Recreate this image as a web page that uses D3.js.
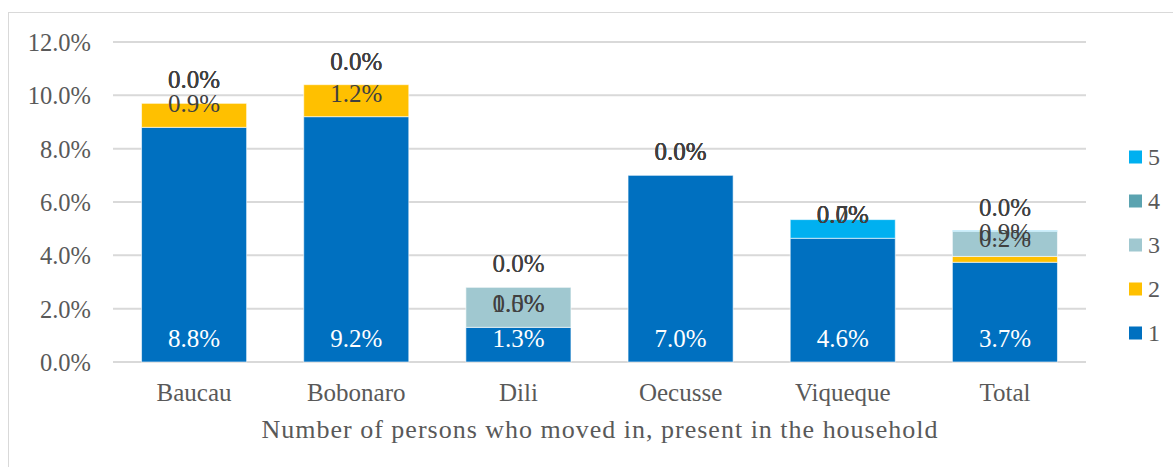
<!DOCTYPE html>
<html>
<head>
<meta charset="utf-8">
<script src="https://cdn.jsdelivr.net/npm/d3@7"></script>
<style>
  body { margin: 0; background: #fff; }
  svg { display: block; font-family: "Liberation Serif", "DejaVu Serif", serif; }
</style>
</head>
<body>
<svg id="chart" width="1173" height="467"></svg>
<script>
// categories and series values (percent)
const categories = ["Baucau", "Bobonaro", "Dili", "Oecusse", "Viqueque", "Total"];
const seriesNames = ["1", "2", "3", "4", "5"];
const s1 = [8.8, 9.2, 1.3, 7.0, 4.64, 3.74];
const s2 = [0.9, 1.2, 0.0, 0.0, 0.0, 0.22];
const s3 = [0.0, 0.0, 1.5, 0.0, 0.0, 0.94];
const s4 = [0.0, 0.0, 0.0, 0.0, 0.0, 0.0];
const s5 = [0.0, 0.0, 0.0, 0.0, 0.7, 0.03];
const yTicks = [0, 2, 4, 6, 8, 10, 12];
const colors = ["#0070C0", "#FFC000", "#A0C8D0", "#5BA3B0", "#00B0F0"];
const axisTitle = "Number of persons who moved in, present in the household";

// build table for d3.stack
const series = [s1, s2, s3, s4, s5];
const table = categories.map((c, i) => {
    let row = {cat: c};
    seriesNames.forEach((s, k) => row[s] = series[k][i]);
    return row;
});

const svg = d3.select("#chart");

// outer frame
svg.append("rect")
    .attr("x", 8.5).attr("y", 12.5)
    .attr("width", 1300).attr("height", 600)
    .attr("fill", "none").attr("stroke", "#d9d9d9");

const x = d3.scaleBand()
    .domain(categories)
    .range([113, 1086])
    .paddingInner(0.352)
    .paddingOuter(0.176);

const y = d3.scaleLinear()
    .domain([0, 12])
    .range([362, 42]);

// gridlines
svg.append("g")
    .selectAll("line")
    .data(yTicks)
    .enter().append("line")
    .attr("x1", 113).attr("x2", 1086)
    .attr("y1", d => y(d)).attr("y2", d => y(d))
    .attr("stroke", "#d9d9d9").attr("stroke-width", 2);

// y axis labels
const yAxis = svg.append("g")
    .attr("transform", "translate(91,0)")
    .call(d3.axisLeft(y).tickValues(yTicks).tickSize(0).tickPadding(0)
          .tickFormat(d => d3.format(".1f")(d) + "%"));
yAxis.select(".domain").remove();
yAxis.selectAll("text")
    .attr("fill", "#595959")
    .style("font-size", "24.5px")
    .style("font-family", "Liberation Serif")
    .attr("dy", "0.34em");

// stacked bars
const stack = d3.stack().keys(seriesNames);
const stacked = stack(table);

const layers = svg.append("g")
    .selectAll("g")
    .data(stacked)
    .enter().append("g")
    .attr("fill", (d, i) => colors[i]);

layers.selectAll("rect")
    .data(d => d)
    .enter().append("rect")
    .attr("x", d => x(d.data.cat))
    .attr("width", x.bandwidth())
    .attr("y", d => y(d[1]))
    .attr("height", d => y(d[0]) - y(d[1]))
    .attr("stroke", "#ffffff")
    .attr("stroke-opacity", 0.6)
    .attr("stroke-width", 1);

// data labels, sitting just above each segment's base
const labels = svg.append("g");
stacked.forEach((layer, k) => {
    labels.selectAll(".lab" + k)
        .data(layer)
        .enter().append("text")
        .attr("class", "lab" + k)
        .attr("x", d => x(d.data.cat) + x.bandwidth() / 2)
        .attr("y", d => y(d[0]) - 15)
        .attr("text-anchor", "middle")
        .attr("fill", k === 0 ? "#ffffff" : "#404040")
        .style("font-size", "25px")
        .text(d => d3.format(".1f")(d[1] - d[0]) + "%");
});

// x axis category labels
svg.append("g")
    .selectAll("text")
    .data(categories)
    .enter().append("text")
    .attr("x", d => x(d) + x.bandwidth() / 2)
    .attr("y", 401)
    .attr("text-anchor", "middle")
    .attr("fill", "#595959")
    .style("font-size", "25px")
    .text(d => d);

// axis title
svg.append("text")
    .attr("x", (113 + 1086) / 2)
    .attr("y", 438)
    .attr("text-anchor", "middle")
    .attr("fill", "#595959")
    .style("font-size", "26px")
    .attr("textLength", 676)
    .attr("lengthAdjust", "spacing")
    .text(axisTitle);

// legend, top to bottom 5..1
const legend = svg.append("g")
    .selectAll("g")
    .data(seriesNames.slice().reverse())
    .enter().append("g")
    .attr("transform", (d, i) => "translate(1129," + (157 + i * 44) + ")");
legend.append("rect")
    .attr("x", 0).attr("y", -6.5)
    .attr("width", 13).attr("height", 13)
    .attr("fill", d => colors[seriesNames.indexOf(d)]);
legend.append("text")
    .attr("x", 19).attr("y", 8)
    .attr("fill", "#595959")
    .style("font-size", "24px")
    .text(d => d);
</script>
</body>
</html>
